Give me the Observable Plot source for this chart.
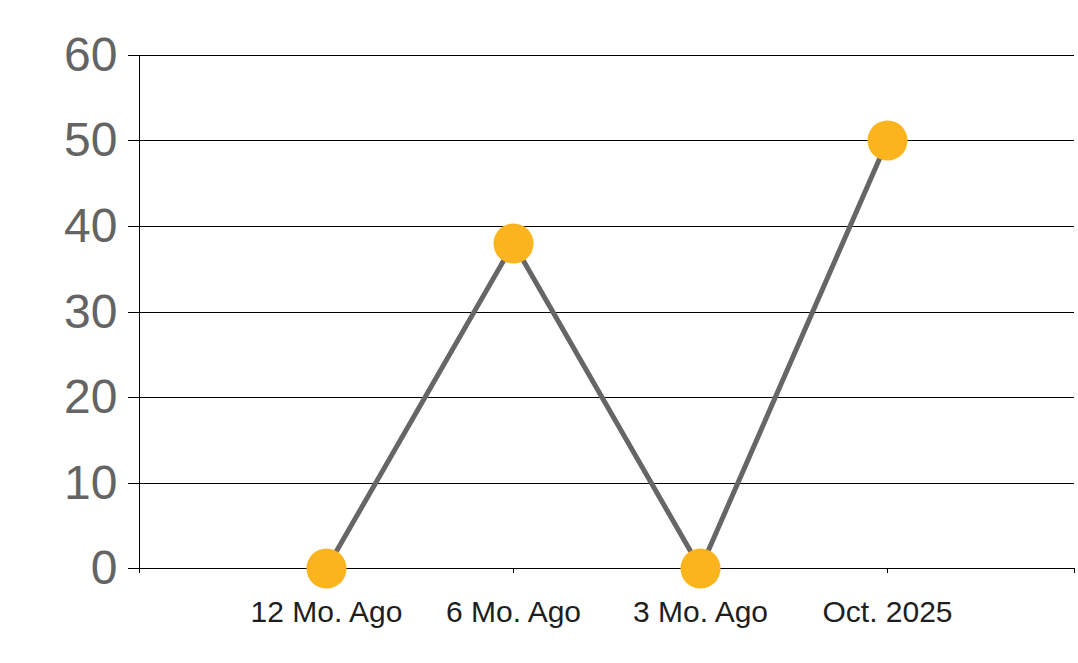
<!DOCTYPE html>
<html>
<head>
<meta charset="utf-8">
<script src="https://cdn.jsdelivr.net/npm/d3@7"></script>
<script src="https://cdn.jsdelivr.net/npm/@observablehq/plot@0.6"></script>
<style>
  html, body { margin: 0; padding: 0; background: #fff; }
  #chart svg { display: block; }
</style>
</head>
<body>
<div id="chart"></div>
<script>
const categories = ["12 Mo. Ago", "6 Mo. Ago", "3 Mo. Ago", "Oct. 2025"];
const values = [0, 38, 0, 50];
const yTicks = [0, 10, 20, 30, 40, 50, 60];

const data = categories.map((c, i) => ({ cat: c, value: values[i] }));
const domain = ["", ...categories, " "];

const chart = Plot.plot({
  width: 1078,
  height: 663,
  marginLeft: 138,
  marginRight: 4,
  marginTop: 55,
  marginBottom: 95,
  style: { fontFamily: "'Liberation Sans', Arial, sans-serif", background: "#fff" },
  x: { type: "point", domain, padding: 0, round: true },
  y: { domain: [0, 60], round: true },
  marks: [
    Plot.ruleY(yTicks, { stroke: "#000", strokeWidth: 1 }),
    Plot.ruleX([""], { y1: 0, y2: 60, stroke: "#000", strokeWidth: 1 }),
    Plot.axisY({
      ticks: yTicks, tickSize: 10, tickPadding: 11, fontSize: 48,
      fill: "#646464", stroke: "#000", strokeOpacity: 1, label: null
    }),
    Plot.axisX({
      tickSize: 5, tickPadding: 27, fontSize: 30, fill: "#1e1e1e",
      stroke: "#000", strokeOpacity: 1, label: null, tickFormat: d => d.trim()
    }),
    Plot.line(data, { x: "cat", y: "value", stroke: "#666666", strokeWidth: 5 }),
    Plot.dot(data, { x: "cat", y: "value", r: 20, fill: "#FBB41D", stroke: "none" })
  ]
});
document.getElementById("chart").appendChild(chart);
</script>
</body>
</html>
